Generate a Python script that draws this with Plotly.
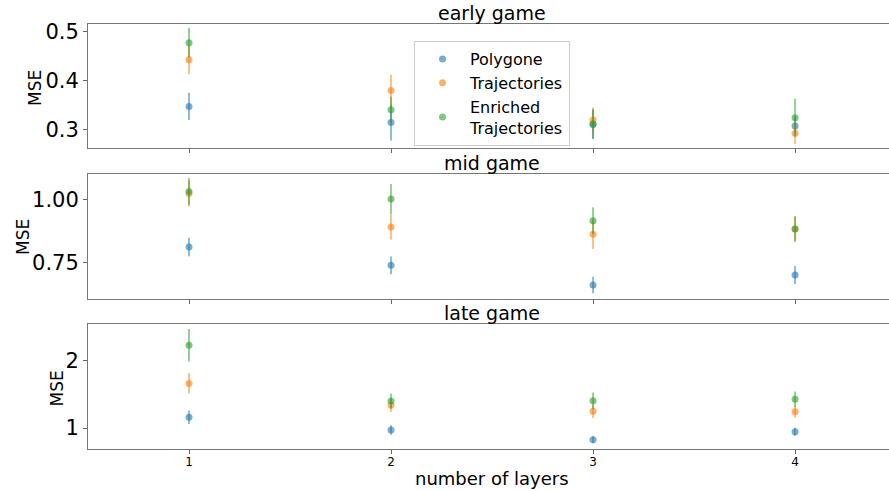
import plotly.graph_objects as go
from plotly.subplots import make_subplots

layers = [1, 2, 3, 4]
series_names = ["Polygone", "Trajectories", "Enriched<br>Trajectories"]
colors = ["rgba(31,119,180,0.6)", "rgba(255,127,14,0.6)", "rgba(44,160,44,0.6)"]
bar_colors = ["rgba(31,119,180,0.5)", "rgba(255,127,14,0.5)", "rgba(44,160,44,0.5)"]

panel_titles = ["early game", "mid game", "late game"]

# early game: mean and error per series
early_mean = [
    [0.347, 0.314, 0.310, 0.307],
    [0.443, 0.380, 0.319, 0.292],
    [0.478, 0.340, 0.311, 0.324],
]
early_err = [
    [0.028, 0.037, 0.030, 0.020],
    [0.030, 0.032, 0.026, 0.022],
    [0.030, 0.027, 0.030, 0.039],
]

# mid game
mid_mean = [
    [0.811, 0.738, 0.660, 0.700],
    [1.023, 0.890, 0.861, 0.882],
    [1.031, 1.001, 0.915, 0.882],
]
mid_err = [
    [0.037, 0.035, 0.033, 0.036],
    [0.052, 0.050, 0.058, 0.050],
    [0.053, 0.060, 0.053, 0.050],
]

# late game
late_mean = [
    [1.158, 0.970, 0.827, 0.945],
    [1.659, 1.335, 1.246, 1.240],
    [2.222, 1.399, 1.403, 1.424],
]
late_err = [
    [0.10, 0.07, 0.05, 0.06],
    [0.15, 0.10, 0.10, 0.09],
    [0.24, 0.11, 0.12, 0.115],
]

y_ranges = [[0.2616, 0.5164], [0.6044, 1.1004], [0.690, 2.536]]
y_tickvals = [[0.3, 0.4, 0.5], [0.75, 1.00], [1, 2]]
y_ticktext = [["0.3", "0.4", "0.5"], ["0.75", "1.00"], ["1", "2"]]
x_range = [0.5, 4.465]

FONT = "DejaVu Sans"

fig = make_subplots(rows=3, cols=1, shared_xaxes=False)

panels = [(early_mean, early_err), (mid_mean, mid_err), (late_mean, late_err)]
for r, (means, errs) in enumerate(panels, start=1):
    for i, name in enumerate(series_names):
        fig.add_trace(
            go.Scatter(
                x=layers,
                y=means[i],
                mode="markers",
                name=name,
                showlegend=(r == 1),
                legendgroup=name,
                marker=dict(color=colors[i], size=7, line=dict(width=0)),
                error_y=dict(type="data", array=errs[i], visible=True,
                             color=bar_colors[i], thickness=2, width=0),
            ),
            row=r, col=1,
        )

domains = [[0.7082, 1.0], [0.3529, 0.6471], [0.0, 0.2941]]
for r in range(1, 4):
    suffix = "" if r == 1 else str(r)
    fig.layout["xaxis" + suffix].update(
        range=x_range, tickvals=layers, ticktext=[str(v) for v in layers],
        showticklabels=(r == 3), ticks="outside", ticklen=4, tickcolor="#666",
        ticklabelstandoff=-2,
        showline=True, linecolor="#777", linewidth=1, mirror=True,
        showgrid=False, zeroline=False, domain=[0, 1], automargin=False,
        tickfont=dict(size=12, family=FONT, color="black"),
    )
    fig.layout["yaxis" + suffix].update(
        range=y_ranges[r - 1], tickvals=y_tickvals[r - 1], ticktext=y_ticktext[r - 1],
        ticks="outside", ticklen=4, tickcolor="#666",
        showline=True, linecolor="#777", linewidth=1, mirror=False,
        showgrid=False, zeroline=False, domain=domains[r - 1], automargin=False,
        tickfont=dict(size=21, family=FONT, color="black"),
    )

annotations = []
title_y = [1.025, 0.672, 0.321]
for t, yy in zip(panel_titles, title_y):
    annotations.append(dict(text=t, x=(492 - 88) / 801, y=yy, xref="paper", yref="paper",
                            xanchor="center", yanchor="middle", showarrow=False,
                            font=dict(size=19, family=FONT, color="black")))

mse_pos = [(-0.0662, (449 - 88) / 425), (-0.0811, (449 - 237) / 425), (-0.0381, (449 - 388) / 425)]
for xx, yy in mse_pos:
    annotations.append(dict(text="MSE", x=xx, y=yy, xref="paper", yref="paper",
                            xanchor="center", yanchor="middle", textangle=-90, showarrow=False,
                            font=dict(size=17, family=FONT, color="black")))

annotations.append(dict(text="number of layers", x=(492 - 88) / 801, y=(449 - 478) / 425,
                        xref="paper", yref="paper", xanchor="center", yanchor="middle",
                        showarrow=False, font=dict(size=18, family=FONT, color="black")))

fig.update_layout(
    width=889, height=491,
    margin=dict(l=88, r=0, t=24, b=42, autoexpand=False),
    plot_bgcolor="white", paper_bgcolor="white",
    font=dict(family=FONT, color="black"),
    annotations=annotations,
    legend=dict(x=(414 - 88) / 801, y=(449 - 41) / 425, xanchor="left", yanchor="top",
                bordercolor="#ccc", borderwidth=1, bgcolor="rgba(255,255,255,0.8)",
                font=dict(size=16, family=FONT, color="black"), tracegroupgap=0,
                itemwidth=45),
)

fig.write_html("out.html", config={"displayModeBar": False},
               post_script="document.body.style.margin='0';")
